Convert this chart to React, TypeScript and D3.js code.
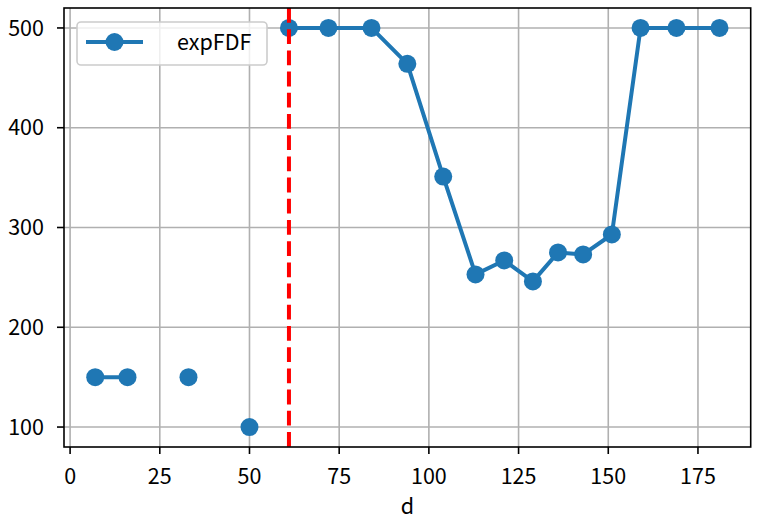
import React from "react";
import * as d3 from "d3";

const xs: number[] = [7, 16, 24, 33, 41, 50, 55, 61, 72, 84, 94, 104, 113, 121, 129, 136, 143, 151, 159, 169, 181];
const ys: (number | null)[] = [150, 150, null, 150, null, 100, null, 500, 500, 500, 464, 351, 253, 267, 246, 275, 273, 293, 500, 500, 500];
const xTicks: number[] = [0, 25, 50, 75, 100, 125, 150, 175];
const yTicks: number[] = [100, 200, 300, 400, 500];
const vline = 61;
const seriesName = "expFDF";
const xLabel = "d";

const W = 759, H = 517;
const L = 64, R = 750.7, T = 8, B = 447;
const FONT = "'Noto Sans CJK JP', 'DejaVu Sans', sans-serif";
const FS = 21.5;
const BLUE = "#1f77b4";

export default function App() {
  const x = d3.scaleLinear().domain([-1.7, 189.7]).range([L, R]);
  const y = d3.scaleLinear().domain([80, 520]).range([B, T]);
  const pts = xs.map((v, i) => ({ x: v, y: ys[i] }));
  const line = d3
    .line<{ x: number; y: number | null }>()
    .defined((d) => d.y !== null)
    .x((d) => x(d.x))
    .y((d) => y(d.y as number));
  return (
    <div style={{ position: "fixed", left: 0, top: 0 }}>
      <svg width={W} height={H} style={{ display: "block" }}>
        <rect x={0} y={0} width={W} height={H} fill="#fff" />
        <clipPath id="clip">
          <rect x={L} y={T} width={R - L} height={B - T} />
        </clipPath>
        {xTicks.map((t) => (
          <line key={"gx" + t} x1={x(t)} x2={x(t)} y1={T} y2={B} stroke="#b0b0b0" strokeWidth={1.6} />
        ))}
        {yTicks.map((t) => (
          <line key={"gy" + t} x1={L} x2={R} y1={y(t)} y2={y(t)} stroke="#b0b0b0" strokeWidth={1.6} />
        ))}
        <g clipPath="url(#clip)">
          <path d={line(pts) || ""} fill="none" stroke={BLUE} strokeWidth={4} strokeLinejoin="round" />
        </g>
        {pts
          .filter((d) => d.y !== null)
          .map((d, i) => (
            <circle key={"p" + i} cx={x(d.x)} cy={y(d.y as number)} r={9} fill={BLUE} />
          ))}
        <line x1={x(vline)} x2={x(vline)} y1={T} y2={B} stroke="red" strokeWidth={4} strokeDasharray="14.8,6.4" />
        <rect x={L} y={T} width={R - L} height={B - T} fill="none" stroke="#000" strokeWidth={1.6} />
        {xTicks.map((t) => (
          <g key={"tx" + t}>
            <line x1={x(t)} x2={x(t)} y1={B} y2={B + 7} stroke="#000" strokeWidth={1.6} />
            <text x={x(t)} y={483.5} textAnchor="middle" fontSize={FS} fontFamily={FONT} fill="#000">
              {t}
            </text>
          </g>
        ))}
        {yTicks.map((t) => (
          <g key={"ty" + t}>
            <line x1={L - 7} x2={L} y1={y(t)} y2={y(t)} stroke="#000" strokeWidth={1.6} />
            <text x={44} y={y(t)} dy="0.36em" textAnchor="end" fontSize={FS} fontFamily={FONT} fill="#000">
              {t}
            </text>
          </g>
        ))}
        <text x={(L + R) / 2} y={514} textAnchor="middle" fontSize={FS} fontFamily={FONT} fill="#000">
          {xLabel}
        </text>
        <g>
          <rect x={77} y={22} width={190} height={43} rx={4} fill="#fff" fillOpacity={0.8} stroke="#cccccc" strokeWidth={1.6} />
          <line x1={86} x2={143} y1={42} y2={42} stroke={BLUE} strokeWidth={4} />
          <circle cx={114.5} cy={42} r={9} fill={BLUE} />
          <text x={177} y={42} dy="0.36em" fontSize={FS} fontFamily={FONT} fill="#000">
            {seriesName}
          </text>
        </g>
      </svg>
    </div>
  );
}
